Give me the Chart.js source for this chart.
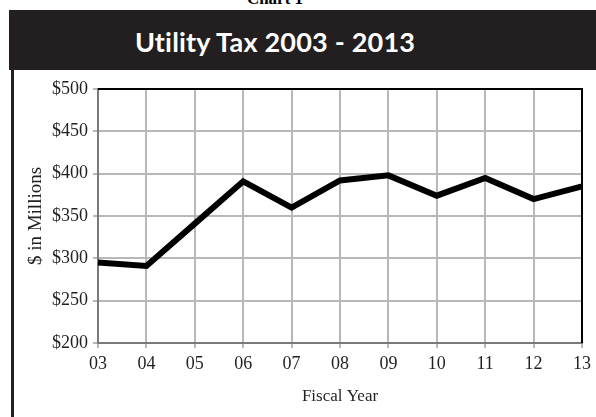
<!DOCTYPE html>
<html>
<head>
<meta charset="utf-8">
<script src="https://cdn.jsdelivr.net/npm/chart.js@4"></script>
<style>
    html, body { margin: 0; padding: 0; background: #fff; overflow: hidden; }
    #wrap { position: relative; width: 596px; height: 417px; }
    #chartNo { position: absolute; left: 0; width: 550px; top: -11px; text-align: center;
        font: bold 17px "Liberation Serif", serif; color: #000; }
    #header { position: absolute; left: 9px; top: 10px; width: 587px; height: 60px; background: #231f20; }
    #title { position: absolute; left: 0; width: 550px; top: 25px; text-align: center;
        font: bold 27px Lato, "Open Sans", sans-serif; color: #fff; letter-spacing: 0.2px; }
    #leftRule { position: absolute; left: 11px; top: 70px; width: 3px; height: 347px; background: #231f20; }
    canvas { position: absolute; left: 0; top: 0; }
</style>
</head>
<body>
<div id="wrap">
    <div id="chartNo">Chart 1</div>
    <div id="header"></div>
    <div id="title">Utility Tax 2003 - 2013</div>
    <div id="leftRule"></div>
    <canvas id="utilityChart" width="596" height="417"></canvas>
</div>
<script>
// Fiscal years and utility tax ($ millions)
const years = ['03', '04', '05', '06', '07', '08', '09', '10', '11', '12', '13'];
const utilityTax = [295, 291, 341, 391, 360, 392, 398, 374, 395, 370, 385];
const yTicks = [200, 250, 300, 350, 400, 450, 500];

const serif = '"Liberation Serif", "DejaVu Serif", serif';

// draws the black top and right frame of the plot
const frameBorder = {
    id: 'frameBorder',
    afterDraw(chart) {
        const { ctx, chartArea: a } = chart;
        ctx.save();
        ctx.strokeStyle = '#000';
        ctx.lineWidth = 2;
        ctx.beginPath();
        ctx.moveTo(a.left, a.top);
        ctx.lineTo(a.right, a.top);
        ctx.lineTo(a.right, a.bottom);
        ctx.stroke();
        ctx.restore();
    }
};

const ctx = document.getElementById('utilityChart').getContext('2d');
new Chart(ctx, {
    type: 'line',
    data: {
        labels: years,
        datasets: [{
            data: utilityTax,
            borderColor: '#000',
            borderWidth: 6,
            pointRadius: 0,
            tension: 0,
            fill: false
        }]
    },
    options: {
        responsive: false,
        animation: false,
        layout: {
            padding: { top: 89, right: 11, left: 14, bottom: 0 }
        },
        plugins: {
            legend: { display: false },
            tooltip: { enabled: false }
        },
        scales: {
            x: {
                offset: false,
                grid: { color: '#b8b8b8', lineWidth: 2, tickLength: 5 },
                border: { color: '#7a7a7a', width: 2 },
                ticks: { color: '#231f20', font: { family: serif, size: 18 }, padding: 5, maxRotation: 0 },
                title: {
                    display: true,
                    text: 'Fiscal Year',
                    color: '#231f20',
                    font: { family: serif, size: 17 },
                    padding: { top: 10, bottom: 10 }
                },
                afterFit: s => { s.height = 74; }
            },
            y: {
                min: 200,
                max: 500,
                afterBuildTicks: s => { s.ticks = yTicks.map(v => ({ value: v })); },
                grid: { color: '#b8b8b8', lineWidth: 2, tickLength: 5 },
                border: { color: '#7a7a7a', width: 2 },
                ticks: {
                    color: '#231f20',
                    font: { family: serif, size: 18 },
                    padding: 5,
                    callback: v => '$' + v
                },
                title: {
                    display: true,
                    text: '$ in Millions',
                    color: '#231f20',
                    font: { family: serif, size: 19 },
                    padding: { top: 11, bottom: 2 }
                },
                afterFit: s => { s.width = 84; }
            }
        }
    },
    plugins: [frameBorder]
});
</script>
</body>
</html>
